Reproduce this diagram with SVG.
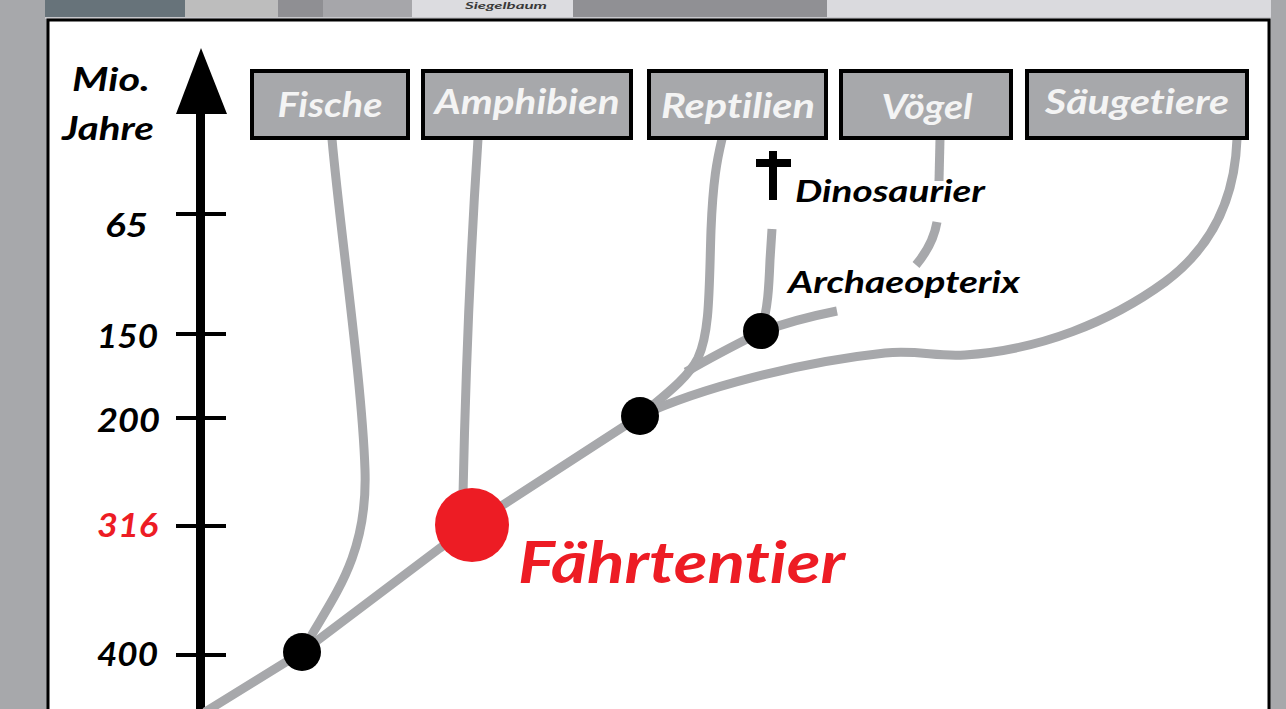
<svg xmlns="http://www.w3.org/2000/svg" width="1286" height="709" viewBox="0 0 1286 709">
<style>
.lbl{font-family:Lato,"Open Sans","Liberation Sans",sans-serif;font-weight:bold;font-style:italic;font-variant-ligatures:none}
.box rect{fill:#a7a8ab;stroke:#000;stroke-width:4}
.box text{fill:#f4f4f4;font-size:34px;text-anchor:middle}
.num{font-size:33px;fill:#000;text-anchor:end}
.br{fill:none;stroke:#a7a8ab;stroke-width:9}
.tick{stroke:#000;stroke-width:4}
</style>
<rect x="0" y="0" width="1286" height="709" fill="#a7a8ab"/>
<g id="topstrip">
<rect x="45" y="0" width="140" height="17" fill="#67737a"/>
<rect x="185" y="0" width="93" height="17" fill="#bdbdbd"/>
<rect x="278" y="0" width="45" height="17" fill="#8f8f93"/>
<rect x="323" y="0" width="89" height="17" fill="#a6a6aa"/>
<rect x="412" y="0" width="161" height="17" fill="#dcdce0"/>
<rect x="573" y="0" width="254" height="17" fill="#909094"/>
<rect x="827" y="0" width="444" height="17" fill="#dadade"/>
<rect x="45" y="17" width="1226" height="2" fill="#c8c8cc"/>
<text x="506" y="9" class="lbl" font-size="10" fill="#3a3a3a" text-anchor="middle" textLength="82" lengthAdjust="spacingAndGlyphs">Siegelbaum</text>
</g>
<rect x="48" y="20" width="1221" height="700" fill="#fff" stroke="#000" stroke-width="3"/>
<g id="axis">
<line x1="200.5" y1="100" x2="200.5" y2="709" stroke="#000" stroke-width="9"/>
<polygon points="201,48 176,114 227,114" fill="#000"/>
<line class="tick" x1="176" y1="214" x2="226" y2="214"/>
<line class="tick" x1="176" y1="334" x2="226" y2="334"/>
<line class="tick" x1="176" y1="418" x2="226" y2="418"/>
<line class="tick" x1="176" y1="526" x2="226" y2="526"/>
<line class="tick" x1="176" y1="655" x2="226" y2="655"/>
<text class="lbl" x="111" y="91" font-size="32" text-anchor="middle" textLength="78" lengthAdjust="spacingAndGlyphs">Mio.</text>
<text class="lbl" x="108" y="140" font-size="32" text-anchor="middle" textLength="92" lengthAdjust="spacingAndGlyphs">Jahre</text>
<text class="lbl num" x="148" y="237" textLength="43" lengthAdjust="spacingAndGlyphs">65</text>
<text class="lbl num" x="158" y="348" textLength="61" lengthAdjust="spacingAndGlyphs">150</text>
<text class="lbl num" x="160" y="432" textLength="63" lengthAdjust="spacingAndGlyphs">200</text>
<text class="lbl num" x="158" y="537" style="fill:#ed1c24" textLength="61" lengthAdjust="spacingAndGlyphs">316</text>
<text class="lbl num" x="158" y="666" textLength="61" lengthAdjust="spacingAndGlyphs">400</text>
</g>
<g id="connectors">
<path class="br" d="M205,712 L302,652 L440,548 Q458,535 472,525 L640,416"/>
<path class="br" d="M332,139 C340,230 362,380 365,470 C368,560 330,600 302,652"/>
<path class="br" d="M478,139 C470,260 465,400 463,495"/>
<path class="br" d="M640,416 C665,395 688,378 698,358 C710,332 709,290 711,230 C713,180 717,160 722,139"/>
<path class="br" d="M686,372 C710,358 735,345 761,332 C790,321 812,316 837,311"/>
<path class="br" d="M761,330 C768,310 769,285 770,260 L772,229"/>
<path class="br" d="M940,139 L939,181"/>
<path class="br" d="M937,222 C934,240 926,253 916,265"/>
<path class="br" d="M640,416 C700,388 800,362 885,353 C920,350 935,357 965,355 C1040,350 1110,322 1165,282 C1215,245 1235,195 1237,139"/>
</g>
<g id="node-fische" class="box"><rect x="252" y="71" width="156" height="67"/><text class="lbl" x="330" y="117" textLength="105" lengthAdjust="spacingAndGlyphs">Fische</text></g>
<g id="node-amphibien" class="box"><rect x="423" y="71" width="208" height="67"/><text class="lbl" x="527" y="114" textLength="185" lengthAdjust="spacingAndGlyphs">Amphibien</text></g>
<g id="node-reptilien" class="box"><rect x="649" y="71" width="177" height="67"/><text class="lbl" x="738" y="118" textLength="154" lengthAdjust="spacingAndGlyphs">Reptilien</text></g>
<g id="node-voegel" class="box"><rect x="841" y="71" width="170" height="67"/><text class="lbl" x="927" y="119" textLength="91" lengthAdjust="spacingAndGlyphs">Vögel</text></g>
<g id="node-saeugetiere" class="box"><rect x="1027" y="71" width="220" height="67"/><text class="lbl" x="1137" y="114" textLength="184" lengthAdjust="spacingAndGlyphs">Säugetiere</text></g>
<g id="node-dinosaurier">
<rect x="769" y="151" width="8" height="49" fill="#000"/>
<rect x="756" y="159" width="35" height="8" fill="#000"/>
<text class="lbl" x="795" y="202" font-size="30" textLength="190" lengthAdjust="spacingAndGlyphs">Dinosaurier</text>
</g>
<g id="node-archaeopterix">
<circle cx="761" cy="331" r="18" fill="#000"/>
<text class="lbl" x="788" y="293" font-size="30" textLength="232" lengthAdjust="spacingAndGlyphs">Archaeopterix</text>
</g>
<g id="node-400"><circle cx="302" cy="652" r="19" fill="#000"/></g>
<g id="node-200"><circle cx="640" cy="416" r="19" fill="#000"/></g>
<g id="node-faehrtentier">
<circle cx="472" cy="525" r="37" fill="#ed1c24"/>
<text class="lbl" x="518" y="583" font-size="58" fill="#ed1c24" textLength="327" lengthAdjust="spacingAndGlyphs">Fährtentier</text>
</g>
</svg>
